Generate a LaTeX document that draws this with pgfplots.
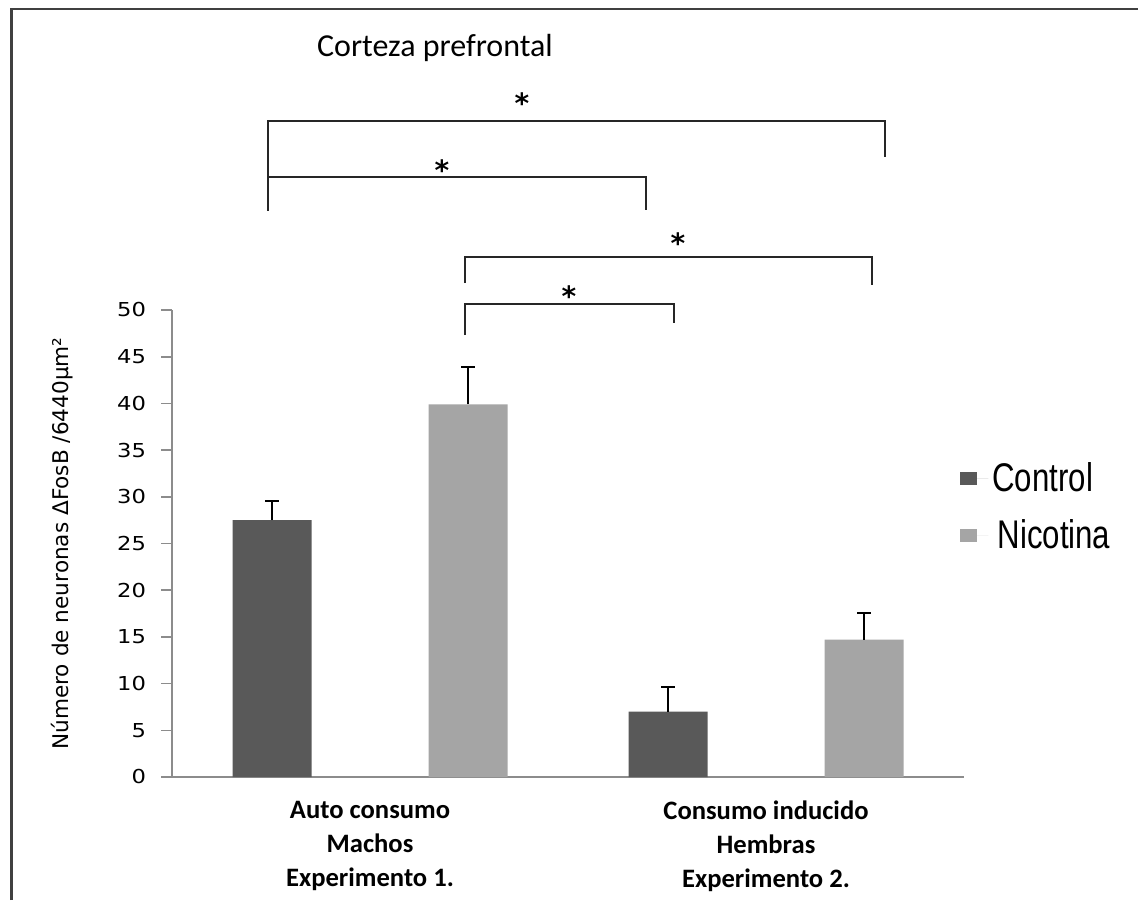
\documentclass[border=0pt]{standalone}
\usepackage{pgfplots}
\pgfplotsset{compat=1.18}
\usepackage{fontspec}
\setmainfont{Carlito}
\newfontfamily\dejavu{DejaVu Sans}
\newfontfamily\arial{Liberation Sans}
\definecolor{ctrl}{HTML}{595959}
\definecolor{nico}{HTML}{A5A5A5}
\definecolor{axgray}{HTML}{8C8C8C}
\definecolor{framec}{HTML}{404040}
\begin{document}
\begin{tikzpicture}
\useasboundingbox (0,0) rectangle (569pt,450pt);
\draw[framec, line width=1.3pt] (5.75pt,0) -- (5.75pt,445.5pt) -- (569pt,445.5pt);
\begin{axis}[
  at={(86pt,61.5pt)}, anchor=south west,
  scale only axis, width=396pt, height=233.5pt,
  xmin=-0.5, xmax=1.5, ymin=0, ymax=50,
  axis x line*=bottom, axis y line*=left,
  axis line style={axgray, line width=0.8pt},
  ytick={0,5,...,50},
  tick align=outside,
  major tick length=5.5pt,
  ytick style={axgray, line width=0.8pt},
  xtick={0,1}, xtick style={draw=none},
  xticklabels={{Auto consumo\\Machos\\Experimento 1.},{Consumo inducido\\Hembras\\Experimento 2.}},
  xticklabel style={align=center, font=\bfseries\fontsize{13.3}{17}\selectfont, yshift=-3pt},
  /pgf/number format/assume math mode=true,
  yticklabel={\scalebox{1.18}[1]{\pgfmathprintnumber{\tick}}},
  yticklabel style={font=\dejavu\fontsize{9.6}{10}\selectfont, xshift=-4pt, text=black},
  ylabel={Número de neuronas ΔFosB /6440μm²},
  ylabel style={font=\dejavu\fontsize{10.8}{12}\selectfont, at={(axis description cs:-0.139,0.5)}, anchor=center},
  clip=false,
  ybar,
  bar width=39.5pt,
  legend style={at={(axis description cs:0.995,0.578)}, anchor=west, draw=none, fill=none, inner sep=0pt,
    row sep=8.5pt, font=\arial\fontsize{20}{22}\selectfont},
  legend cell align=left,
  legend image code/.code={\fill[#1] (0pt,-3.25pt) rectangle (8.5pt,3.25pt); \path (0pt,0pt) -- (14pt,0pt);},
]
\addplot[fill=ctrl, draw=none, bar shift=-49pt,
  error bars/.cd, y dir=plus, y explicit,
  error bar style={black, line width=1pt},
  error mark options={rotate=90, black, mark size=3.5pt, line width=1pt}]
  coordinates {(0,27.5) +- (0,2.1) (1,7.0) +- (0,2.6)};
\addlegendentry{\scalebox{0.78}[1]{Control}}
\addplot[fill=nico, draw=none, bar shift=49pt,
  error bars/.cd, y dir=plus, y explicit,
  error bar style={black, line width=1pt},
  error mark options={rotate=90, black, mark size=3.5pt, line width=1pt}]
  coordinates {(0,39.9) +- (0,4.0) (1,14.7) +- (0,2.9)};
\addlegendentry{\scalebox{0.78}[1]{\,Nicotina}}
\draw[line width=0.8pt, black!85] (axis cs:-0.2576,60.7) -- (axis cs:-0.2576,70.24) -- (axis cs:1.3005,70.24) -- (axis cs:1.3005,66.4);
\draw[line width=0.8pt, black!85] (axis cs:-0.2576,60.6) -- (axis cs:-0.2576,64.24) -- (axis cs:0.697,64.24) -- (axis cs:0.697,60.71);
\draw[line width=0.8pt, black!85] (axis cs:0.2399,52.89) -- (axis cs:0.2399,55.67) -- (axis cs:1.2677,55.67) -- (axis cs:1.2677,52.68);
\draw[line width=0.8pt, black!85] (axis cs:0.2399,47.32) -- (axis cs:0.2399,50.64) -- (axis cs:0.7677,50.64) -- (axis cs:0.7677,48.61);
\tikzset{star/.style={font=\dejavu\bfseries\fontsize{14}{14}\selectfont, yshift=-1.5pt, inner sep=0pt}}
\node[star] at (axis cs:0.3838,72.5) {*};
\node[star] at (axis cs:0.1818,65.31) {*};
\node[star] at (axis cs:0.7778,57.49) {*};
\node[star] at (axis cs:0.5025,51.82) {*};
\node[font=\fontsize{16}{19}\selectfont] at (axis description cs:0.332,1.561) {Corteza prefrontal};
\end{axis}
\end{tikzpicture}
\end{document}
